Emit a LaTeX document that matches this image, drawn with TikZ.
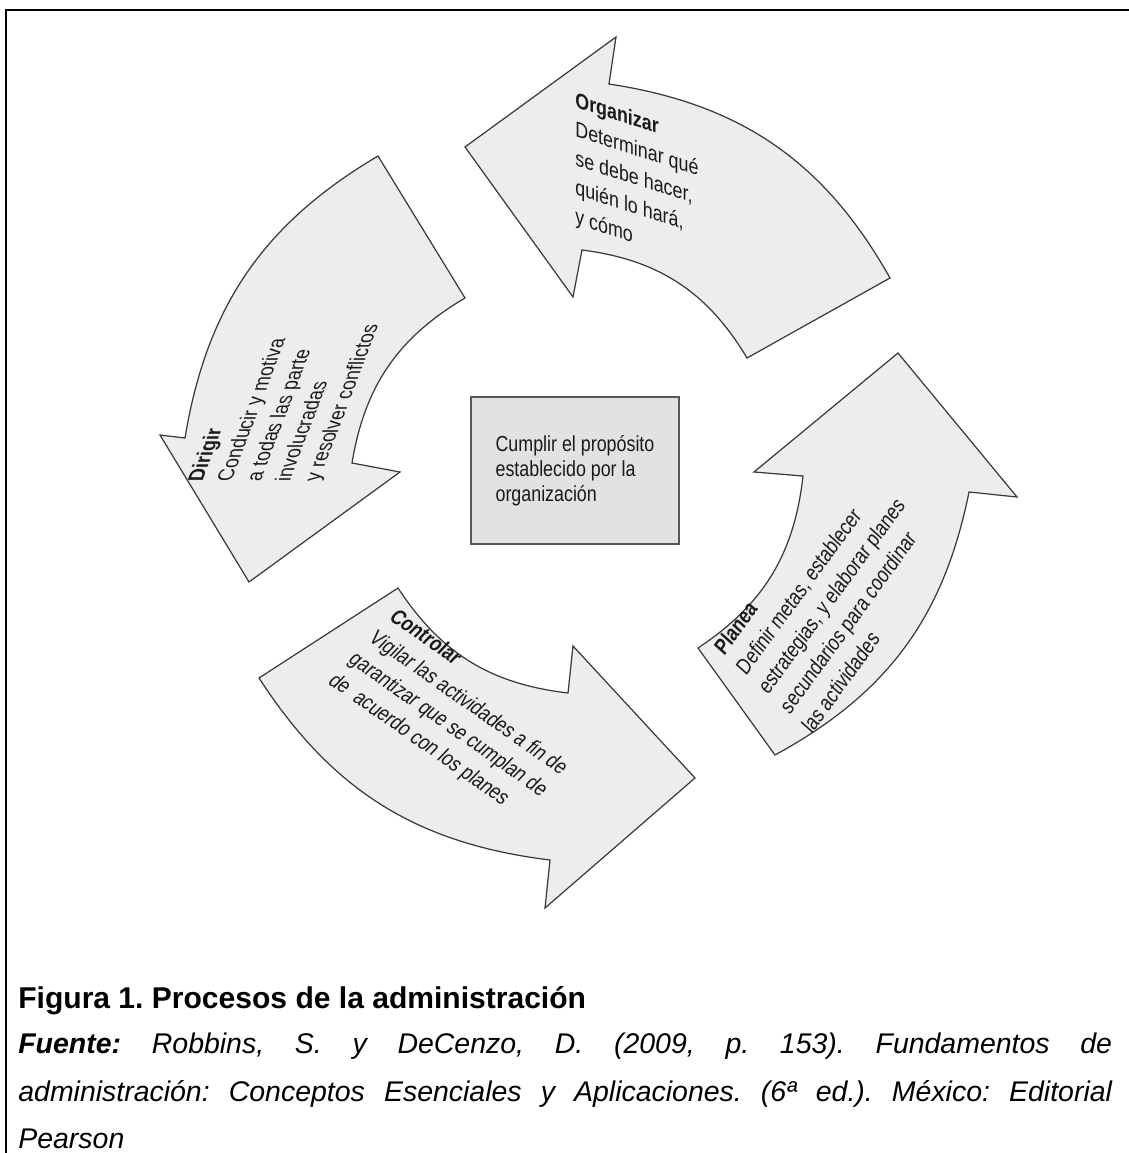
\documentclass[tikz,border=0pt]{standalone}
\usepackage{fontspec}
\setmainfont{Liberation Sans}
\newfontfamily\narrowfont[FakeStretch=0.82]{Liberation Sans}
\usepackage{tikz}
\definecolor{arrowfill}{HTML}{EDEDED}
\definecolor{arrowline}{HTML}{3A3A3A}
\definecolor{boxfill}{HTML}{E2E2E3}
\definecolor{inktext}{HTML}{1A1A1A}
\frenchspacing

\begin{document}
\begin{tikzpicture}[x=0.02cm,y=-0.02cm,
bigarrow/.style={fill=arrowfill,draw=arrowline,line width=0.7pt,line join=miter},
arrowtext/.style={font=\narrowfont\fontsize{12.4}{16.6}\selectfont,text=inktext,align=left,inner sep=0pt,anchor=north west},
goalbox/.style={draw=arrowline!85,fill=boxfill,line width=0.9pt,minimum width=4.16cm,minimum height=2.94cm,align=left,text=inktext,font=\narrowfont\fontsize{12.4}{14.2}\selectfont}]
\useasboundingbox (0,0) rectangle (1129,1153);
\draw[line width=1.1pt] (6,1153) |- (1129,10);
\draw[bigarrow] (465,147) -- (616,37) -- (609,84) to[bend left=26] (890,278) -- (747,358) to[bend right=26] (582,250) -- (573,297) -- cycle;
\draw[bigarrow] (775,755) to[bend right=25] (969,492) -- (1017,497) -- (898,353) -- (754,472) -- (803,476) to[bend left=25] (698,648) -- cycle;
\draw[bigarrow] (259,678) to[bend right=25] (550,860) -- (545,908) -- (695,778) -- (573,646) -- (568,693) to[bend left=25] (398,588) -- cycle;
\draw[bigarrow] (378,156) to[bend right=25] (185,438) -- (160,435) -- (249,582) -- (400,472) -- (352,463) to[bend left=25] (465,298) -- cycle;
\node[goalbox] (goal) at (575,470.5) {Cumplir el propósito\\establecido por la\\organización};
\node[arrowtext,yslant=-0.32] (organizar) at (575,91) {\textbf{Organizar}\\Determinar qué\\se debe hacer,\\quién lo hará,\\y cómo};
\node[arrowtext,rotate=54,xslant=0.1] (planea) at (712,646) {\textbf{Planea}\\Definir metas, establecer\\estrategias, y elaborar planes\\secundarios para coordinar\\las actividades};
\node[arrowtext,rotate=-35,xslant=0.15] (controlar) at (399,607) {\textbf{Controlar}\\Vigilar las actividades a fin de\\garantizar que se cumplan de\\de\ \ acuerdo con los planes};
\node[arrowtext,rotate=90,yslant=-0.38] (dirigir) at (186,482) {\textbf{Dirigir}\\Conducir y motiva\\a todas las parte\\involucradas\\y resolver conflictos};
\node[anchor=base west,inner sep=0pt,font=\bfseries\fontsize{17.1}{20}\selectfont] (titulo) at (18,1008) {Figura 1. Procesos de la administración};
\node[anchor=north west,inner sep=0pt,text width=21.88cm,align=justify,font=\itshape\fontsize{16.2}{26.8}\selectfont] (fuente) at (18,1033) {\textbf{Fuente:} Robbins, S. y DeCenzo, D. (2009, p. 153). Fundamentos de\linebreak administración: Conceptos Esenciales y Aplicaciones. (6ª ed.). México: Editorial\linebreak Pearson};
\end{tikzpicture}
\end{document}
